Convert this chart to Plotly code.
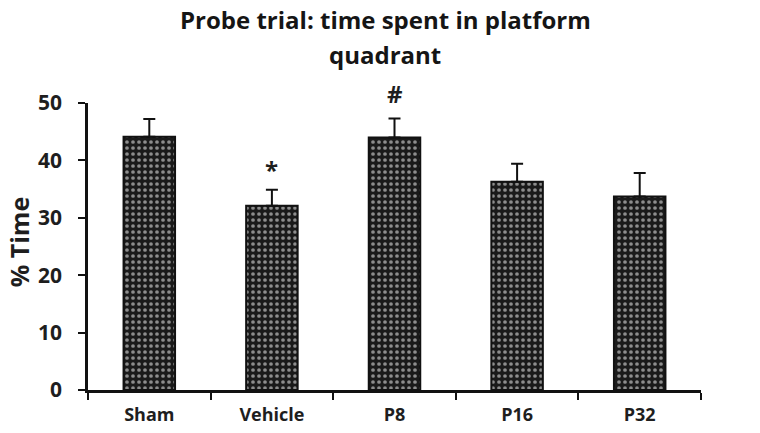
import plotly.graph_objects as go

groups = ["Sham", "Vehicle", "P8", "P16", "P32"]
time_pct = [44.1, 32.1, 44.0, 36.3, 33.7]
sem = [3.1, 2.8, 3.3, 3.1, 4.1]
marks = ["", "*", "#", "", ""]
mark_y = [None, 38.4, 51.7, None, None]
y_ticks = [0, 10, 20, 30, 40, 50]
title_lines = ["Probe trial: time spent in platform", "quadrant"]

FONT = "Open Sans"
INK = "#1e1e1e"
Y_MAX = 50

fig = go.Figure()
fig.add_trace(
    go.Bar(
        x=groups,
        y=time_pct,
        marker=dict(
            color="#1a1a1a",
            line=dict(color="#111111", width=2),
            pattern=dict(shape=".", fgcolor="white", bgcolor="#1a1a1a", size=6, solidity=0.3),
        ),
        error_y=dict(
            type="data",
            symmetric=False,
            array=sem,
            arrayminus=[0] * len(sem),
            color="#111111",
            thickness=2,
            width=6,
        ),
        width=0.42,
        showlegend=False,
    )
)

# significance marks; paper y so the one above the axis top is not hidden
for g, m, yy in zip(groups, marks, mark_y):
    if m:
        fig.add_annotation(
            x=g, xref="x", yref="paper", y=yy / Y_MAX, text=f"<b>{m}</b>", showarrow=False,
            font=dict(family=FONT, size=24, color=INK), yanchor="middle",
        )

# two-line title as paper annotations (page is offset 8px by body margin)
for line, ypos in zip(title_lines, [1.29, 1.17]):
    fig.add_annotation(
        xref="paper", yref="paper", x=0.485, y=ypos,
        text=f"<b>{line}</b>", showarrow=False,
        font=dict(family=FONT, size=24, color="#151515"), yanchor="middle",
    )

# y axis title placed by hand (automargin is off)
fig.add_annotation(
    xref="paper", yref="paper", x=-0.112, y=0.516, textangle=-90,
    text="<b>% Time</b>", showarrow=False,
    font=dict(family=FONT, size=25, color=INK), xanchor="center", yanchor="middle",
)

fig.update_layout(
    template="simple_white",
    width=752,
    height=425,
    margin=dict(l=80, r=59, t=95, b=43, autoexpand=False),
    paper_bgcolor="white",
    plot_bgcolor="white",
    font=dict(family=FONT, color=INK),
)
fig.update_xaxes(
    automargin=False,
    showline=True,
    linecolor="#111111",
    linewidth=2.5,
    ticks="outside",
    tickson="boundaries",
    ticklen=7,
    tickwidth=2,
    tickcolor="#111111",
    ticklabelstandoff=7,
    tickfont=dict(family=FONT, size=18, color=INK),
    tickprefix="<b>",
    ticksuffix="</b>",
)
fig.update_yaxes(
    automargin=False,
    range=[0, Y_MAX],
    tickvals=y_ticks,
    ticktext=[f"<b>{v}</b>" for v in y_ticks],
    showline=True,
    linecolor="#111111",
    linewidth=2.5,
    ticks="outside",
    ticklen=7,
    tickwidth=2,
    tickcolor="#111111",
    ticklabelstandoff=12,
    tickfont=dict(family=FONT, size=21, color=INK),
    showgrid=False,
    zeroline=False,
)

fig.write_html("out.html")
